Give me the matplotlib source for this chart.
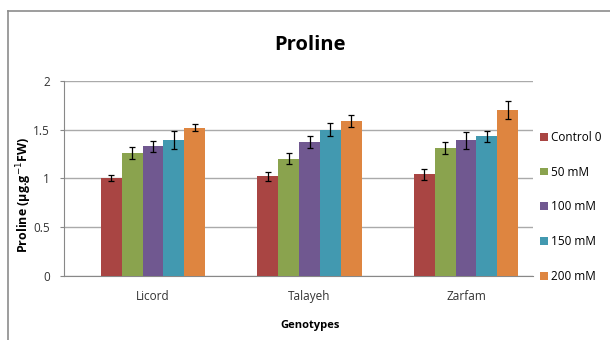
import matplotlib
matplotlib.use("Agg")
import matplotlib.pyplot as plt
import numpy as np
from matplotlib.lines import Line2D

genotypes = ["Licord", "Talayeh", "Zarfam"]
treatments = ["Control 0", "50 mM", "100 mM", "150 mM", "200 mM"]
values = {
    "Control 0": [1.00, 1.02, 1.04],
    "50 mM": [1.26, 1.20, 1.31],
    "100 mM": [1.33, 1.37, 1.39],
    "150 mM": [1.39, 1.50, 1.43],
    "200 mM": [1.52, 1.59, 1.70],
}
errors = {
    "Control 0": [0.03, 0.05, 0.058],
    "50 mM": [0.058, 0.058, 0.065],
    "100 mM": [0.056, 0.063, 0.085],
    "150 mM": [0.09, 0.066, 0.06],
    "200 mM": [0.04, 0.06, 0.095],
}
colors = ["#A94543", "#8AA34E", "#705890", "#4299B0", "#DE8540"]
yticks = [0, 0.5, 1, 1.5, 2]
ytick_labels = ["0", "0.5", "1", "1.5", "2"]

plt.rcParams['font.family'] = ['Open Sans', 'DejaVu Sans']

fig = plt.figure(figsize=(6.1, 3.4), dpi=100)
# outer frame (top and left edges visible)
fig.lines.append(Line2D([7.5/610, 1], [1-10.5/340, 1-10.5/340], transform=fig.transFigure,
                        color="#8C8C8C", linewidth=1.2))
fig.lines.append(Line2D([7.5/610, 7.5/610], [0, 1-10.5/340], transform=fig.transFigure,
                        color="#8C8C8C", linewidth=1.2))

ax = fig.add_axes([64/610, 1-276/340, (533-64)/610, (276-80.7)/340])

x = np.arange(len(genotypes))
n = len(treatments)
group_w = 0.665
w = group_w / n
for i, t in enumerate(treatments):
    pos = x - group_w/2 + w*(i+0.5)
    ax.bar(pos, values[t], width=w, color=colors[i], label=t, zorder=3)
    ax.errorbar(pos, values[t], yerr=errors[t], fmt='none', ecolor='black',
                elinewidth=0.9, capsize=2.5, capthick=0.9, zorder=4)

ax.set_ylim(0, 2)
ax.set_xlim(-0.569, 2.428)
ax.set_yticks(yticks)
ax.set_yticklabels(ytick_labels)
ax.set_xticks(x)
ax.set_xticklabels(genotypes)
ax.yaxis.grid(True, color="#AAAAAA", linewidth=1.0, zorder=0)
ax.set_axisbelow(True)
for s in ["top", "right"]:
    ax.spines[s].set_visible(False)
ax.spines["left"].set_color("#888888")
ax.spines["bottom"].set_color("#888888")
ax.tick_params(axis='y', length=3, color="#888888", labelsize=8.5, labelcolor="#333333", pad=7)
ax.tick_params(axis='x', length=0, labelsize=8.5, labelcolor="#333333", pad=10)

fig.text(310/610, 1-45/340, "Proline", fontsize=14.5, fontweight='bold',
         ha='center', va='center')
ax.set_ylabel("Proline (μg.g$^{-1}$FW)", fontsize=9, fontweight='bold')
ax.yaxis.set_label_coords((34-64)/469, (276-195)/195.3)
ax.set_xlabel("Genotypes", fontsize=8, fontweight='bold')
ax.xaxis.set_label_coords((310-64)/469, -(320-276)/195.3)

fig.legend(*ax.get_legend_handles_labels(), loc='center left',
           bbox_to_anchor=(540/610, 1-207/340), frameon=False,
           handlelength=0.65, handleheight=0.65, handletextpad=0.3,
           labelspacing=1.85, fontsize=8.5, borderaxespad=0, borderpad=0)

fig.savefig("out.png", dpi=100)
